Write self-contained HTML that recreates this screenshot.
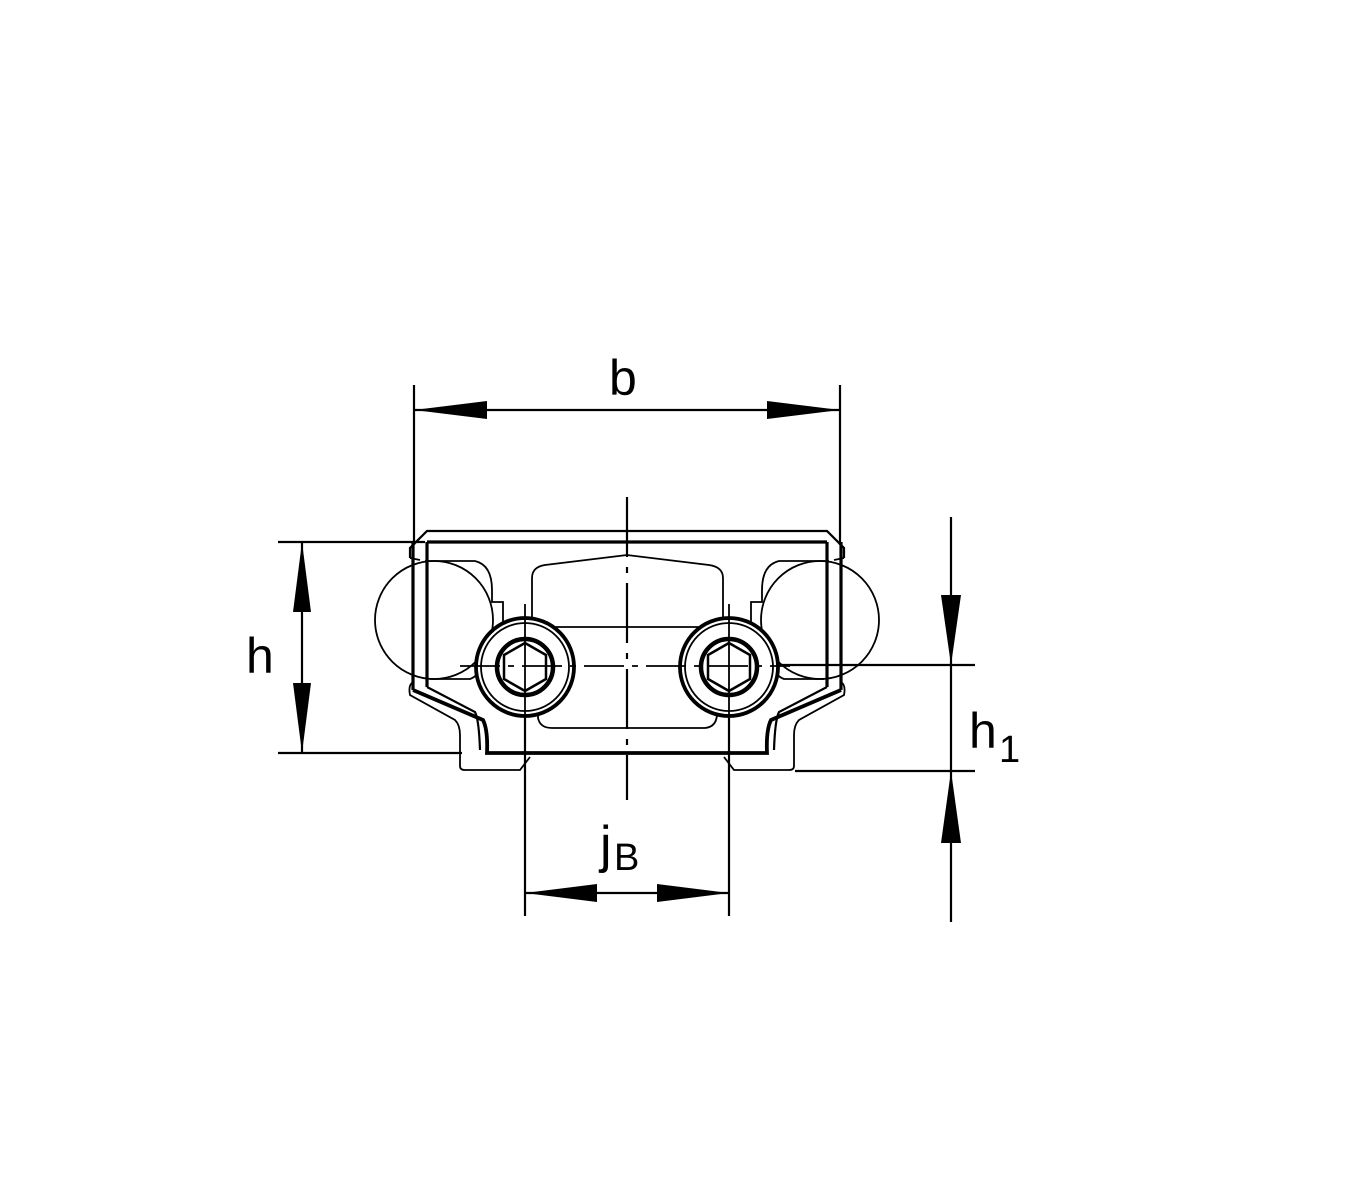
<!DOCTYPE html>
<html><head><meta charset="utf-8"><style>
html,body{margin:0;padding:0;background:#fff;}
svg{display:block;}
text{font-family:"Liberation Sans",sans-serif;fill:#000;}
</style></head><body>
<svg width="1350" height="1200" viewBox="0 0 1350 1200" xmlns="http://www.w3.org/2000/svg">
<g stroke="#000" fill="none" stroke-width="2.2">
<line x1="414" y1="385" x2="414" y2="545"/>
<line x1="840" y1="385" x2="840" y2="545"/>
<line x1="414" y1="410" x2="840" y2="410"/>
<line x1="278" y1="542" x2="425" y2="542"/>
<line x1="278" y1="753" x2="462" y2="753"/>
<line x1="302" y1="542" x2="302" y2="753"/>
<line x1="951" y1="517" x2="951" y2="922"/>
<line x1="770" y1="665" x2="975" y2="665"/>
<line x1="795" y1="771" x2="975" y2="771"/>
<line x1="525" y1="690" x2="525" y2="916"/>
<line x1="729" y1="690" x2="729" y2="916"/>
<line x1="525" y1="893" x2="729" y2="893"/>
<line x1="627" y1="497" x2="627" y2="800" stroke-dasharray="60,10,6,10"/>
</g>
<g fill="#000">
<polygon points="414,410 487,401 487,419"/>
<polygon points="840,410 767,401 767,419"/>
<polygon points="302,542 293,612 311,612"/>
<polygon points="302,753 293,683 311,683"/>
<polygon points="951,665 941,595 961,595"/>
<polygon points="951,771 941,843 961,843"/>
<polygon points="525,893 597,884 597,902"/>
<polygon points="729,893 657,884 657,902"/>
</g>
<g stroke="#000" fill="none">
<circle cx="434" cy="620" r="59" stroke-width="1.8"/>
<circle cx="820" cy="620" r="59" stroke-width="1.8"/>
<path d="M425,561 L475,561 Q492,565 492,590 L492,602 L503,602 L503,636" stroke-width="1.8"/>
<path d="M829,561 L779,561 Q762,565 762,590 L762,602 L751,602 L751,636" stroke-width="1.8"/>
<path d="M430,679 L470,679 Q478,676 480,668" stroke-width="1.8"/>
<path d="M824,679 L784,679 Q776,676 774,668" stroke-width="1.8"/>
<path d="M410,558 L410,548 L427,531 L827,531 L844,548 L844,558" stroke-width="2.2"/>
<path d="M410,558 L420,560 M844,558 L834,560" stroke-width="1.8"/>
<path d="M427,542 L827,542 M427,542 L427,687 M827,542 L827,687 M413,542 L413,690 M841,542 L841,690" stroke-width="3.2"/>
<path d="M413,690 L483,720 Q488,730 487,753 L767,753 Q766,730 771,720 L841,690" stroke-width="3.8"/>
<path d="M427,687 L475,712 Q479,720 480,750 M827,687 L779,712 Q775,720 774,750" stroke-width="2.2"/>
<path d="M413,682 Q408,685 410,695 L455,720 Q460,725 460,735 L460,766 Q460,770 465,770 L520,770 L530,757" stroke-width="1.8"/>
<path d="M841,682 Q846,685 844,695 L799,720 Q794,725 794,735 L794,766 Q794,770 789,770 L734,770 L724,757" stroke-width="1.8"/>
<path d="M532,630 L532,578 Q532,567 545,565 L627,555 L709,565 Q723,567 723,578 L723,630" stroke-width="1.8"/>
<line x1="532" y1="627" x2="723" y2="627" stroke-width="1.8"/>
<path d="M538,705 L538,718 Q540,728 552,728 L705,728 Q716,727 717,715 L717,705" stroke-width="1.8"/>
<circle cx="525" cy="667" r="49" fill="#fff" stroke-width="3.8"/>
<circle cx="525" cy="667" r="44" stroke-width="1.8"/>
<circle cx="525" cy="667" r="28" stroke-width="4.5"/>
<polygon points="525,643 546,655 546,679 525,691 504,679 504,655" stroke-width="2.5"/>
<circle cx="729" cy="667" r="49" fill="#fff" stroke-width="3.8"/>
<circle cx="729" cy="667" r="44" stroke-width="1.8"/>
<circle cx="729" cy="667" r="28" stroke-width="4.5"/>
<polygon points="729,643 750,655 750,679 729,691 708,679 708,655" stroke-width="2.5"/>
<line x1="460" y1="666" x2="790" y2="666" stroke-dasharray="40,8,6,8" stroke-width="1.8"/>
<line x1="525" y1="604" x2="525" y2="720" stroke-width="1.8"/>
<line x1="729" y1="604" x2="729" y2="720" stroke-width="1.8"/>
</g>
<text x="609" y="395" font-size="50">b</text>
<text x="246" y="673" font-size="50">h</text>
<text x="969" y="748" font-size="50">h</text>
<text x="999" y="762" font-size="38">1</text>
<text x="600" y="862" font-size="52">j</text>
<text x="614" y="870" font-size="38">B</text>
</svg>
</body></html>
